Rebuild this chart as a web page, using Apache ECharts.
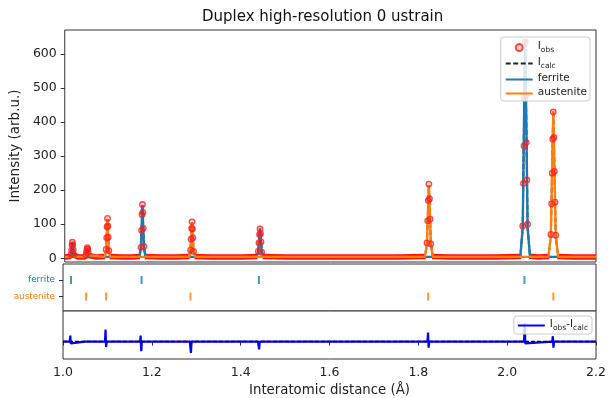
<!DOCTYPE html>
<html><head><meta charset="utf-8">
<script src="https://cdn.jsdelivr.net/npm/echarts@6/dist/echarts.min.js"></script>
<style>html,body{margin:0;padding:0;background:#fff}#c{width:611px;height:398px}</style>
</head><body><div id="c"></div>
<script>
const FONT = 'DejaVu Sans';
const titleText = 'Duplex high-resolution 0 ustrain';
const yTicks = [0, 100, 200, 300, 400, 500, 600];
const phaseNames = ['ferrite', 'austenite'];

// observed intensity (d-spacing, intensity)
const obsD = [1.000,1.0123,1.0143,1.0155,1.0165,1.0173,1.0181,1.0191,1.0203,1.0223,1.030,
  1.0460,1.0480,1.0492,1.0502,1.0510,1.0518,1.0528,1.0540,1.0560,1.070,
  1.0915,1.0935,1.0947,1.0957,1.0965,1.0973,1.0983,1.0995,1.1015,1.130,1.150,
  1.1700,1.1722,1.1735,1.1746,1.1755,1.1764,1.1775,1.1788,1.1810,1.220,1.250,
  1.2820,1.2842,1.2855,1.2866,1.2875,1.2884,1.2895,1.2908,1.2930,1.330,1.370,1.400,
  1.4350,1.4372,1.4387,1.4399,1.4410,1.4421,1.4433,1.4448,1.4470,1.500,1.550,1.600,1.650,1.700,1.750,
  1.8155,1.8182,1.8198,1.8212,1.8225,1.8238,1.8252,1.8268,1.8295,1.870,1.920,1.970,
  2.0310,2.0345,2.0362,2.0375,2.0388,2.0400,2.0412,2.0425,2.0438,2.0455,2.0490,2.070,
  2.0945,2.0980,2.0997,2.1010,2.1022,2.1035,2.1048,2.1060,2.1073,2.1090,2.1125,2.150,2.200];
const obsI = [4,5,11,24,38,47,40,25,10,5,4,
  4,9,18,26,31,27,17,8,5,4,
  5,26,60,92,117,95,62,22,5,4,4,
  5,32,82,128,158,135,88,35,5,4,4,
  5,24,56,88,107,86,60,20,5,4,4,4,
  5,20,45,70,86,72,48,18,5,4,4,4,4,4,4,
  5,45,110,170,218,175,115,42,5,4,4,4,
  5,95,220,330,470,635,480,340,230,100,6,4,
  5,70,160,250,350,430,355,255,165,68,5,4,4];

// calculated total
const calcD = [1.000,1.0113,1.0143,1.0158,1.0173,1.0188,1.0203,1.0233,
  1.0450,1.0480,1.0495,1.0510,1.0525,1.0540,1.0570,
  1.0905,1.0935,1.0950,1.0965,1.0980,1.0995,1.1025,
  1.1685,1.1720,1.1738,1.1755,1.1772,1.1790,1.1825,
  1.2805,1.2840,1.2858,1.2875,1.2892,1.2910,1.2945,
  1.4330,1.4370,1.4390,1.4410,1.4430,1.4450,1.4490,
  1.8135,1.8180,1.8202,1.8225,1.8248,1.8270,1.8315,
  2.0290,2.0345,2.0372,2.0400,2.0428,2.0455,2.0510,
  2.0925,2.0980,2.1008,2.1035,2.1062,2.1090,2.1145,2.200];
const calcI = [4,4,11,28,46,28,11,4,
  4,9,19,30,19,9,4,
  4,25,70,115,70,25,4,
  4,31,95,156,95,31,4,
  4,23,65,105,65,23,4,
  4,19,55,87,55,19,4,
  4,41,130,215,130,41,4,
  4,91,380,640,380,91,4,
  4,66,260,432,260,66,4,4];

// ferrite phase contribution
const ferD = [1.000,1.0113,1.0143,1.0158,1.0173,1.0188,1.0203,1.0233,
  1.1685,1.1720,1.1738,1.1755,1.1772,1.1790,1.1825,
  1.4330,1.4370,1.4390,1.4410,1.4430,1.4450,1.4490,
  2.0290,2.0345,2.0372,2.0400,2.0428,2.0455,2.0510,2.200];
const ferI = [4,4,11,28,46,28,11,4,
  4,31,95,156,95,31,4,
  4,19,55,87,55,19,4,
  4,91,380,640,380,91,4,4];

// austenite phase contribution
const ausD = [1.000,1.0450,1.0480,1.0495,1.0510,1.0525,1.0540,1.0570,
  1.0905,1.0935,1.0950,1.0965,1.0980,1.0995,1.1025,
  1.2805,1.2840,1.2858,1.2875,1.2892,1.2910,1.2945,
  1.8135,1.8180,1.8202,1.8225,1.8248,1.8270,1.8315,
  2.0925,2.0980,2.1008,2.1035,2.1062,2.1090,2.1145,2.200];
const ausI = [4,4,9,19,30,19,9,4,
  4,25,70,115,70,25,4,
  4,23,65,105,65,23,4,
  4,41,130,215,130,41,4,
  4,66,260,432,260,66,4,4];

// reflection positions
const ferRefl = [1.018, 1.177, 1.441, 2.039];
const ausRefl = [1.052, 1.097, 1.287, 1.822, 2.104];

// residual Iobs - Icalc
const resD = [1.000,1.0150,1.0165,1.0175,1.0190,
  1.0495,1.0508,1.0518,1.0530,
  1.0945,1.0958,1.0970,1.0985,
  1.1735,1.1748,1.1762,1.1775,
  1.2855,1.2868,1.2880,1.2895,
  1.4390,1.4403,1.4415,1.4430,
  1.8205,1.8218,1.8232,1.8245,
  2.0380,2.0395,2.0408,2.0420,
  2.1015,2.1028,2.1042,2.1055,2.200];
const resI = [0,0,10,-3,0,
  0,3,-1,0,
  0,20,-9,0,
  0,10,-16,0,
  0,3,-19,0,
  0,2,-13,0,
  0,15,-10,0,
  0,30,-3,0,
  0,9,-10,0,0];

const pairs = (xs, ys) => xs.map((x, i) => [x, ys[i]]);
const C_FER = '#1f77b4', C_AUS = '#ff7f0e';
const L = 63, R = 611 - 596;
const border = { show: true, borderColor: '#333', borderWidth: 1, backgroundColor: '#fff' };

const rich = {
  b: { fontFamily: FONT, fontSize: 10.5, color: '#222', lineHeight: 15, verticalAlign: 'top', padding: [1, 0, 0, 0] },
  s: { fontFamily: FONT, fontSize: 7.5, color: '#222', lineHeight: 15, verticalAlign: 'top', padding: [6, 0, 0, 0] }
};
const legFmt = n => n === 'Iobs' ? '{b|I}{s|obs}' : n === 'Icalc' ? '{b|I}{s|calc}' :
  n === 'Iobs-Icalc' ? '{b|I}{s|obs}{b|-I}{s|calc}' : '{b|' + n + '}';
const legendBase = {
  orient: 'vertical', zlevel: 1, z: 10, backgroundColor: 'rgba(255,255,255,0.82)',
  borderColor: '#ccc', borderWidth: 1, borderRadius: 3,
  itemWidth: 27, itemHeight: 7, itemGap: 2, formatter: legFmt,
  textStyle: { fontFamily: FONT, fontSize: 10.5, color: '#222', rich: rich },
  selectedMode: false
};
const noSym = { opacity: 0 };

const xAxes = [0, 1, 2].map(i => ({
  type: 'value', gridIndex: i, min: 1.0, max: 2.2, interval: 0.2,
  axisLine: { show: false }, splitLine: { show: false },
  axisTick: { show: i === 2, length: 4, lineStyle: { color: '#333' } },
  axisLabel: { show: i === 2, margin: 7, fontFamily: FONT, fontSize: 12.5, color: '#222',
    formatter: v => v.toFixed(1) },
  name: i === 2 ? 'Interatomic distance (Å)' : '', nameLocation: 'middle', nameGap: 25,
  nameTextStyle: { fontFamily: FONT, fontSize: 13.3, color: '#222' }
}));

const option = {
  animation: false,
  backgroundColor: '#fff',
  title: { text: titleText, left: 197, top: 5,
    textStyle: { fontFamily: FONT, fontSize: 15, fontWeight: 'normal', color: '#111' } },
  grid: [
    Object.assign({ left: L, right: R, top: 30, height: 232 }, border),
    Object.assign({ left: L, right: R, top: 264, height: 47 }, border),
    Object.assign({ left: L, right: R, top: 311, height: 48 }, border)
  ],
  xAxis: xAxes,
  yAxis: [
    { type: 'value', gridIndex: 0, min: -11, max: 671,
      axisLine: { show: false }, splitLine: { show: false },
      axisTick: { show: true, length: 4, customValues: yTicks, lineStyle: { color: '#333' } },
      axisLabel: { customValues: yTicks, margin: 8, fontFamily: FONT, fontSize: 12.5, color: '#222' },
      name: 'Intensity (arb.u.)', nameLocation: 'middle', nameGap: 33,
      nameTextStyle: { fontFamily: FONT, fontSize: 13.5, color: '#222' } },
    { type: 'value', gridIndex: 1, min: -0.88, max: 1.97,
      axisLine: { show: false }, splitLine: { show: false },
      axisTick: { show: true, length: 4, customValues: [0, 1], lineStyle: { color: '#333' } },
      axisLabel: { customValues: [0, 1], margin: 8,
        formatter: v => v === 1 ? '{f|' + phaseNames[0] + '}' : '{a|' + phaseNames[1] + '}',
        rich: { f: { fontFamily: FONT, fontSize: 8.8, color: C_FER },
                a: { fontFamily: FONT, fontSize: 8.8, color: C_AUS } } } },
    { type: 'value', gridIndex: 2, min: -29, max: 51,
      axisLine: { show: false }, splitLine: { show: false },
      axisTick: { show: false }, axisLabel: { show: false } }
  ],
  legend: [
    Object.assign({ top: 37, right: 611 - 590, padding: [3, 3, 3, 4], data: [
      { name: 'Iobs' },
      { name: 'Icalc', itemStyle: noSym },
      { name: 'ferrite', itemStyle: noSym },
      { name: 'austenite', itemStyle: noSym }] }, legendBase),
    Object.assign({ top: 316, right: 611 - 592, padding: [2, 4, 2, 3], itemWidth: 22,
      data: [{ name: 'Iobs-Icalc', itemStyle: noSym }] }, legendBase)
  ],
  series: [
    { name: 'obsBand', type: 'line', xAxisIndex: 0, yAxisIndex: 0,
      data: pairs(obsD, obsI).map(p => p[1] > 12 ? [p[0], null] : p),
      connectNulls: false, symbol: 'none', silent: true, z: 1,
      lineStyle: { color: '#ff1010', width: 5.5 } },
    { name: 'Icalc', type: 'line', xAxisIndex: 0, yAxisIndex: 0, data: pairs(calcD, calcI),
      symbol: 'none', z: 2, lineStyle: { color: '#222', width: 2, type: [5, 2.5] }, itemStyle: { color: '#222' } },
    { name: 'ferrite', type: 'line', xAxisIndex: 0, yAxisIndex: 0, data: pairs(ferD, ferI),
      symbol: 'none', z: 2, lineStyle: { color: C_FER, width: 2.4 }, itemStyle: { color: C_FER } },
    { name: 'austenite', type: 'line', xAxisIndex: 0, yAxisIndex: 0, data: pairs(ausD, ausI),
      symbol: 'none', z: 2, lineStyle: { color: C_AUS, width: 2.4 }, itemStyle: { color: C_AUS } },
    { name: 'Iobs', type: 'scatter', xAxisIndex: 0, yAxisIndex: 0,
      data: pairs(obsD, obsI).filter(p => p[1] > 8),
      symbol: 'circle', symbolSize: 5.5, z: 3,
      itemStyle: { color: 'rgba(255,0,0,0.25)', borderColor: '#ff2020', borderWidth: 1.3 } },
    { name: 'ferriteRefl', type: 'scatter', xAxisIndex: 1, yAxisIndex: 1,
      data: ferRefl.map(x => [x, 1]), symbol: 'rect', symbolSize: [2, 8], itemStyle: { color: C_FER } },
    { name: 'austeniteRefl', type: 'scatter', xAxisIndex: 1, yAxisIndex: 1,
      data: ausRefl.map(x => [x, 0]), symbol: 'rect', symbolSize: [2, 8], itemStyle: { color: C_AUS } },
    { name: 'Iobs-Icalc', type: 'line', xAxisIndex: 2, yAxisIndex: 2, data: pairs(resD, resI),
      symbol: 'none', z: 2, lineStyle: { color: '#0000ff', width: 2.2 }, itemStyle: { color: '#0000ff' },
      markLine: { silent: true, symbol: 'none', label: { show: false },
        lineStyle: { color: '#111', type: [4, 2], width: 1.3 }, data: [{ yAxis: 0 }] } }
  ]
};
const chart = echarts.init(document.getElementById('c'), null, { renderer: 'canvas' });
chart.setOption(option);
</script></body></html>
